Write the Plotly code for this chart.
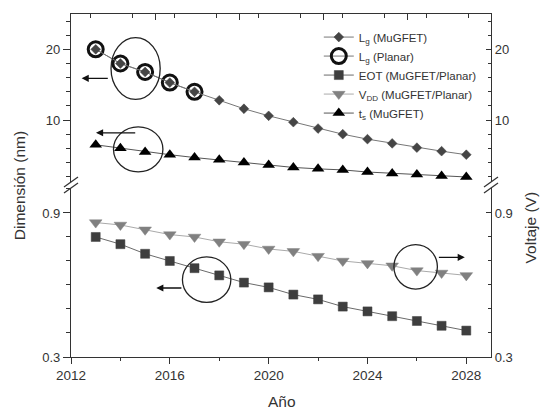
import plotly.graph_objects as go

years = list(range(2013, 2029))
lg_mugfet = [20, 18, 16.8, 15.3, 14.0, 12.8, 11.6, 10.6, 9.7, 8.8, 8.0, 7.3, 6.7, 6.1, 5.6, 5.1]
years_planar = [2013, 2014, 2015, 2016, 2017]
lg_planar = [20, 18, 16.8, 15.3, 14.0]
eot = [0.80, 0.77, 0.73, 0.70, 0.67, 0.64, 0.61, 0.59, 0.56, 0.54, 0.51, 0.49, 0.47, 0.45, 0.43, 0.41]
vdd = [0.86, 0.85, 0.83, 0.81, 0.80, 0.78, 0.77, 0.75, 0.74, 0.72, 0.70, 0.69, 0.68, 0.66, 0.65, 0.64]
ts = [6.5, 6.0, 5.5, 5.1, 4.7, 4.4, 4.0, 3.65, 3.3, 3.1, 2.95, 2.65, 2.45, 2.3, 2.1, 1.95]

FONT = "Liberation Sans, Arial, sans-serif"
AX = "#333333"

fig = go.Figure()

fig.add_trace(go.Scatter(x=years_planar, y=lg_planar, xaxis="x2", yaxis="y",
                         mode="lines+markers", name="L<sub>g</sub> (Planar)", legendrank=2,
                         line=dict(color="#777777", width=1),
                         marker=dict(symbol="circle-open", size=15, color="#111111",
                                     line=dict(width=3, color="#111111"))))
fig.add_trace(go.Scatter(x=years, y=lg_mugfet, xaxis="x2", yaxis="y",
                         mode="lines+markers", name="L<sub>g</sub> (MuGFET)", legendrank=1,
                         line=dict(color="#777777", width=1),
                         marker=dict(symbol="diamond", size=7.5, color="#454545",
                                     line=dict(width=0.5, color="#454545"))))
fig.add_trace(go.Scatter(x=years, y=eot, xaxis="x", yaxis="y2",
                         mode="lines+markers", name="EOT (MuGFET/Planar)", legendrank=3,
                         line=dict(color="#6a6a6a", width=1),
                         marker=dict(symbol="square", size=9, color="#3e3e3e",
                                     line=dict(width=0.5, color="#3e3e3e"))))
fig.add_trace(go.Scatter(x=years, y=vdd, xaxis="x", yaxis="y4",
                         mode="lines+markers", name="V<sub>DD</sub> (MuGFET/Planar)", legendrank=4,
                         line=dict(color="#aaaaaa", width=1),
                         marker=dict(symbol="triangle-down", size=11, color="#808080",
                                     line=dict(width=0.5, color="#808080"))))
fig.add_trace(go.Scatter(x=years, y=ts, xaxis="x2", yaxis="y",
                         mode="lines+markers", name="t<sub>s</sub> (MuGFET)", legendrank=5,
                         line=dict(color="#555555", width=1),
                         marker=dict(symbol="triangle-up", size=11, color="#000000")))

TOP_DOM = [0.5102, 1.0]
BOT_DOM = [0.0, 0.4927]
TOP_RANGE = [1.24, 25]
BOT_RANGE = [0.3, 1.004]

common_y = dict(showline=True, linecolor=AX, linewidth=1.3, showgrid=False, zeroline=False,
                tickfont=dict(family=FONT, size=13, color="#333"), tickcolor=AX)

fig.update_layout(
    width=543, height=410,
    margin=dict(l=71, r=52, t=14, b=53),
    plot_bgcolor="white", paper_bgcolor="white",
    font=dict(family=FONT, color="#333"),
    xaxis=dict(domain=[0, 1], anchor="y2", range=[2012, 2029], showline=True, linecolor=AX,
               linewidth=1.3, showgrid=False, zeroline=False, ticks="outside", ticklen=6,
               tickcolor=AX, tick0=2012, dtick=4, tickformat="d",
               minor=dict(dtick=2, ticks="outside", ticklen=3, tickcolor=AX),
               tickfont=dict(family=FONT, size=13.5, color="#333")),
    xaxis2=dict(domain=[0, 1], anchor="y", side="top", range=[2012, 2029], showline=True,
                linecolor=AX, linewidth=1.3, showgrid=False, zeroline=False, ticks="inside",
                ticklen=6, tickcolor=AX, tick0=2012, dtick=3.4, showticklabels=False,
                minor=dict(dtick=1.7, ticks="inside", ticklen=4, tickcolor=AX)),
    yaxis=dict(domain=TOP_DOM, anchor="x2", range=TOP_RANGE, tickvals=[10, 20],
               ticks="outside", ticklen=7,
               minor=dict(tick0=0, dtick=2, ticks="outside", ticklen=4, tickcolor=AX), **common_y),
    yaxis2=dict(domain=BOT_DOM, anchor="x", range=BOT_RANGE, tickvals=[0.3, 0.9],
                ticks="outside", ticklen=7,
                minor=dict(tick0=0.3, dtick=0.1, ticks="outside", ticklen=4, tickcolor=AX), **common_y),
    yaxis3=dict(overlaying="y", side="right", anchor="x2", range=TOP_RANGE, tickvals=[10, 20],
                ticks="inside", ticklen=5,
                minor=dict(tick0=0, dtick=2, ticks="inside", ticklen=3, tickcolor=AX), **common_y),
    yaxis4=dict(overlaying="y2", side="right", anchor="x", range=BOT_RANGE, tickvals=[0.3, 0.9],
                ticks="inside", ticklen=5,
                minor=dict(tick0=0.3, dtick=0.1, ticks="inside", ticklen=3, tickcolor=AX), **common_y),
    legend=dict(x=0.59, y=0.975, xanchor="left", yanchor="top", bgcolor="rgba(0,0,0,0)",
                font=dict(family=FONT, size=11.5, color="#333"), itemwidth=30,
                tracegroupgap=0),
    showlegend=True,
)

# dummy trace to make yaxis3 visible
fig.add_trace(go.Scatter(x=[2012], y=[10], xaxis="x2", yaxis="y3", mode="markers",
                         marker=dict(opacity=0), showlegend=False, hoverinfo="skip"))

# axis titles
fig.add_annotation(text="Dimensión (nm)", xref="paper", yref="paper", x=-0.122, y=0.50,
                   xanchor="center", yanchor="middle",
                   textangle=-90, showarrow=False, font=dict(family=FONT, size=15.5, color="#333"))
fig.add_annotation(text="Voltaje (V)", xref="paper", yref="paper", x=1.093, y=0.378,
                   xanchor="center", yanchor="middle",
                   textangle=-90, showarrow=False, font=dict(family=FONT, size=15.5, color="#333"))
fig.add_annotation(text="Año", xref="paper", yref="paper", x=0.503, y=-0.131,
                   xanchor="center", yanchor="middle",
                   showarrow=False, font=dict(family=FONT, size=15.5, color="#333"))

# break marks (paper coords)
def px2p(px, py):
    return (px - 71) / 420.0, (357 - py) / 343.0

shapes = []
for xc in (71, 491):
    for dy in (-3, 3):
        x0, y0 = px2p(xc - 7, 185 + dy + 5)
        x1, y1 = px2p(xc + 7, 185 + dy - 5)
        shapes.append(dict(type="line", xref="paper", yref="paper", x0=x0, y0=y0, x1=x1, y1=y1,
                           line=dict(color=AX, width=1.3)))

# ellipses
ell = [
    ("x2", "y", 2013.62, 2015.61, 12.93, 21.67),
    ("x2", "y", 2013.72, 2015.72, 2.67, 9.05),
    ("x", "y2", 2016.51, 2018.47, 0.5275, 0.7167),
    ("x", "y2", 2025.07, 2026.83, 0.583, 0.768),
]
for xr, yr, x0, x1, y0, y1 in ell:
    shapes.append(dict(type="circle", xref=xr, yref=yr, x0=x0, x1=x1, y0=y0, y1=y1,
                       line=dict(color="#222", width=1.3)))
fig.update_layout(shapes=shapes)

# arrows
arrows = [
    ("x2", "y", 2012.43, 15.9, 2013.55, 15.9),
    ("x2", "y", 2013.01, 8.2, 2014.66, 8.2),
    ("x", "y2", 2015.45, 0.5875, 2016.53, 0.5875),
    ("x", "y2", 2027.94, 0.715, 2026.83, 0.715),
]
for xr, yr, hx, hy, tx, ty in arrows:
    fig.add_annotation(x=hx, y=hy, ax=tx, ay=ty, xref=xr, yref=yr, axref=xr, ayref=yr,
                       showarrow=True, arrowhead=2, arrowsize=1.1, arrowwidth=1.3,
                       arrowcolor="#111", text="")

fig.write_html("out.html", config={"displayModeBar": False},
               post_script="document.body.style.margin='0';document.body.style.overflow='hidden';")
